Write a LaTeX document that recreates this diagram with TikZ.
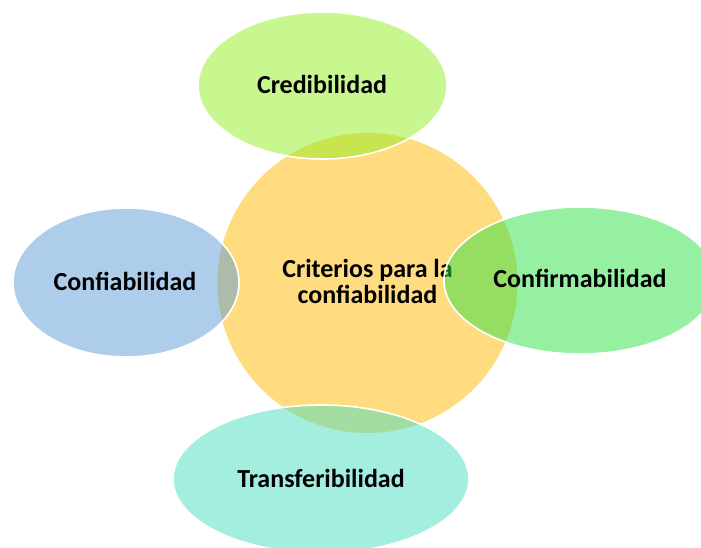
\documentclass[tikz,border=0pt]{standalone}
\usepackage{fontspec}
\setmainfont{Carlito}
\definecolor{circfill}{RGB}{255,220,128}
\definecolor{credc}{RGB}{147,239,31}
\definecolor{confic}{RGB}{93,155,213}
\definecolor{confirc}{RGB}{45,225,69}
\definecolor{transc}{RGB}{71,221,191}
\begin{document}
\begin{tikzpicture}[x=1pt,y=-1pt,
  lbl/.style={font=\fontsize{26}{26}\selectfont\bfseries, text=black, inner sep=0pt, anchor=base},
  bubble/.style={fill opacity=0.5, draw=white, draw opacity=1, line width=1.6pt}]
\useasboundingbox (0,0) rectangle (701,547);
\clip (0,0) rectangle (701,547);
% central circle
\fill[circfill] (367.5,283) circle [radius=150pt];
\node[lbl] (center1) at (367.5,277) {Criterios para la};
\node[lbl] (center2) at (367.5,303) {confiabilidad};
% outer ellipses
\path[bubble, fill=credc] (322.5,85.5) ellipse [x radius=124.5pt, y radius=73.5pt];
\path[bubble, fill=confic] (126,282.5) ellipse [x radius=113pt, y radius=74.5pt];
\path[bubble, fill=confirc] (580,280.5) ellipse [x radius=136pt, y radius=73.5pt];
\path[bubble, fill=transc] (321,479) ellipse [x radius=148pt, y radius=74pt];
% labels
\node[lbl] (cred) at (322,93) {Credibilidad};
\node[lbl] (confi) at (125,290) {Confiabilidad};
\node[lbl] (confir) at (580,287) {Confirmabilidad};
\node[lbl] (trans) at (321,487) {Transferibilidad};
\end{tikzpicture}
\end{document}
